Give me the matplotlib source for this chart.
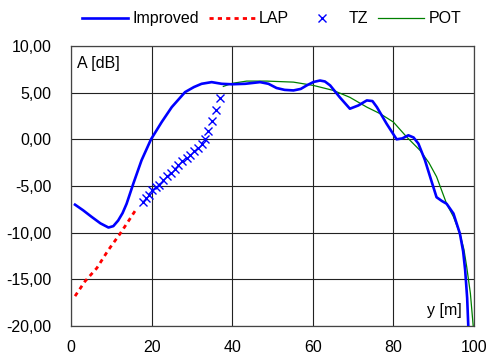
import matplotlib
matplotlib.use("Agg")
import matplotlib.pyplot as plt
from matplotlib.ticker import FuncFormatter

plt.rcParams['font.family'] = ['Liberation Sans', 'DejaVu Sans']

# Improved (linea azul gruesa)
imp_x = [1, 3, 5.1, 7.3, 9.3, 10.5, 11.7, 12.8, 13.8, 15.5, 17.5, 19.85, 22.5, 25, 28.3,
         30.5, 32.4, 34.9, 37.4, 39.9, 43.2, 46.9, 49, 51, 53, 55.2, 57, 58.5, 60.2, 61.8,
         63, 64.3, 66.7, 69.2, 71.3, 73.4, 74.8, 75.9, 78.3, 80.8, 82.2, 83.7, 85, 86.2,
         87.8, 89.1, 89.9, 90.7, 92, 93.2, 94.9, 96.5, 97.3, 97.8, 98.3, 98.6]
imp_y = [-7.0, -7.6, -8.3, -9.0, -9.45, -9.3, -8.7, -7.9, -6.9, -4.7, -2.25, 0.0, 1.85, 3.45, 5.06,
         5.6, 5.95, 6.13, 5.95, 5.9, 5.95, 6.13, 5.95, 5.5, 5.3, 5.24, 5.4, 5.78, 6.15, 6.3,
         6.2, 5.78, 4.5, 3.28, 3.63, 4.17, 4.1, 3.45, 1.68, 0.0, 0.1, 0.43, 0.2, -0.46,
         -2.2, -4.0, -5.1, -6.2, -6.6, -6.9, -7.95, -10.1, -12.0, -14.0, -17.0, -20.2]

# LAP (rojo discontinuo)
lap_x = [1, 3.5, 6.4, 9.2, 12.2, 14.5, 16.3]
lap_y = [-16.8, -15.2, -13.8, -11.9, -10.1, -8.6, -7.4]

# TZ (cruces)
tz_x = [17.9, 18.7, 19.35, 20.2, 21.0, 21.8, 22.9, 23.7, 24.8, 25.8, 26.6, 27.6, 28.7,
        29.5, 30.6, 31.6, 32.4, 33.3, 33.9, 34.9, 35.9, 36.9]
tz_y = [-6.7, -6.3, -6.0, -5.45, -5.15, -4.85, -4.4, -3.9, -3.57, -3.13, -2.78, -2.35, -2.0,
        -1.7, -1.28, -0.93, -0.46, 0.0, 0.86, 1.93, 3.1, 4.42]

# POT (verde fino)
pot_x = [37.8, 40, 43.6, 48.6, 55.2, 60.1, 65.1, 69.2, 73.4, 76.7, 80, 83.3, 86.6, 88.8,
         90.7, 93.2, 94.9, 96.5, 97.5, 98.2, 99.1, 99.8]
pot_y = [5.67, 6.0, 6.24, 6.24, 6.13, 5.78, 5.24, 4.5, 3.45, 2.75, 1.85, 0.25, -1.18, -2.5,
         -4.0, -6.9, -8.3, -10.1, -11.8, -13.7, -16.5, -20.0]

fig = plt.figure(figsize=(4.91, 3.58), dpi=100)
ax = fig.add_axes([0.1446, 0.0894, 0.8208, 0.7821])

ax.plot(imp_x, imp_y, color='#0000ff', lw=1.9, label='Improved', zorder=4)
ax.plot(lap_x, lap_y, color='#ff0000', lw=2.0, linestyle=(0, (1.5, 1.5)), label='LAP', zorder=3)
ax.plot(tz_x, tz_y, linestyle='none', marker='x', color='#0000ff', markersize=6,
        markeredgewidth=1.0, label='TZ', zorder=3)
ax.plot(pot_x, pot_y, color='#008000', lw=0.9, label='POT', zorder=3)

ax.set_xlim(0, 100)
ax.set_ylim(-20, 10)
ax.set_xticks([0, 20, 40, 60, 80, 100])
ax.set_yticks([-20, -15, -10, -5, 0, 5, 10])
ax.yaxis.set_major_formatter(FuncFormatter(lambda v, p: ('%.2f' % v).replace('.', ',')))
ax.tick_params(length=0, labelsize=11.5, colors='black')
ax.tick_params(axis='y', pad=14)
ax.tick_params(axis='x', pad=10)
ax.grid(True, color='#222222', lw=0.8)
ax.set_axisbelow(True)
for s in ax.spines.values():
    s.set_color('#444444')
    s.set_linewidth(0.9)

ax.text(0.015, 0.965, 'A [dB]', transform=ax.transAxes, fontsize=11.5, va='top', ha='left')
ax.text(0.97, 0.03, 'y [m]', transform=ax.transAxes, fontsize=11.5, va='bottom', ha='right')

fig.legend(loc='center', bbox_to_anchor=(0.553, 0.947), ncol=4, frameon=False, fontsize=11.5,
           handlelength=2.9, handletextpad=0.25, columnspacing=0.6, borderaxespad=0)

plt.savefig("out.png", dpi=100)
